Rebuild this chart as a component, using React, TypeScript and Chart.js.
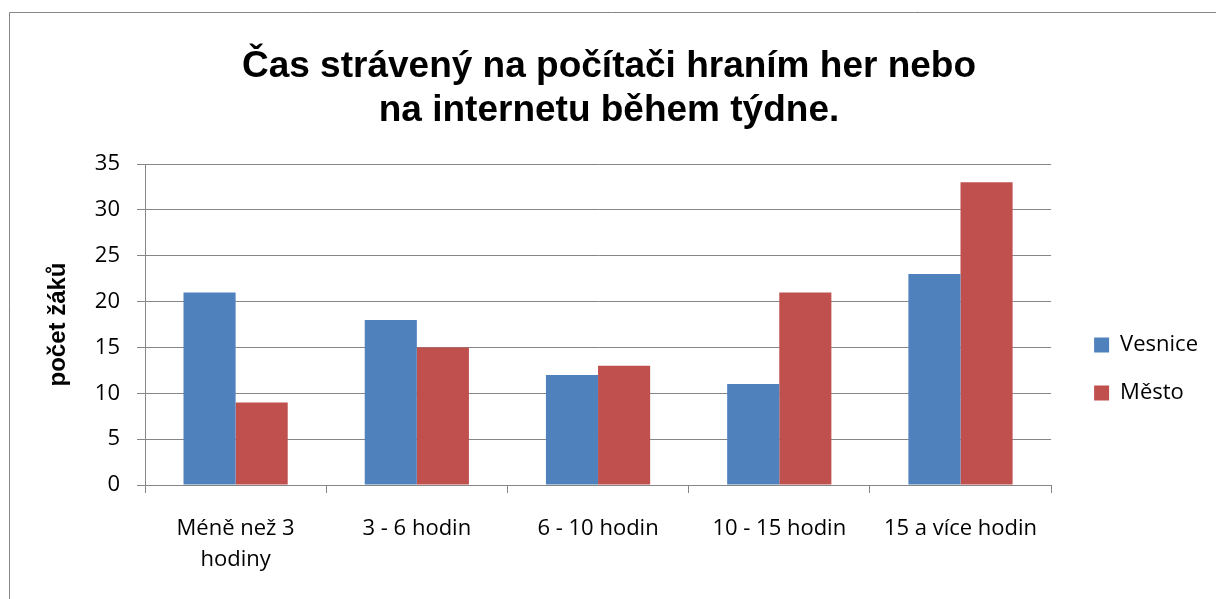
import React, { useEffect, useRef } from "react";
import { Chart, registerables } from "chart.js";

Chart.register(...registerables);

// ---- data ----
const categories: (string | string[])[] = [
  ["Méně než 3", "hodiny"],
  "3 - 6 hodin",
  "6 - 10 hodin",
  "10 - 15 hodin",
  "15 a více hodin",
];
const seriesNames = ["Vesnice", "Město"];
const vesnice = [21, 18, 12, 11, 23];
const mesto = [9, 15, 13, 21, 33];
const titleLines = ["Čas strávený na počítači hraním her nebo", "na internetu během týdne."];
const yAxisTitle = "počet žáků";
const yMin = 0;
const yMax = 35;
const yStep = 5;

const GRID = "#868686";
const TICK_FONT = "'Open Sans', 'Noto Sans', sans-serif";
const BOLD_FONT = "'Liberation Sans', Arial, sans-serif";

const framePlugin = {
  id: "frame",
  beforeDraw(chart: any) {
    const ctx = chart.ctx;
    ctx.save();
    ctx.fillStyle = "#ffffff";
    ctx.fillRect(0, 0, chart.width, chart.height);
    ctx.strokeStyle = GRID;
    ctx.lineWidth = 1;
    ctx.beginPath();
    ctx.moveTo(9.5, chart.height);
    ctx.lineTo(9.5, 12.5);
    ctx.lineTo(chart.width, 12.5);
    ctx.stroke();
    ctx.restore();
  },
};

export default function App() {
  const ref = useRef<HTMLCanvasElement | null>(null);

  useEffect(() => {
    document.body.style.margin = "0";
    document.body.style.overflow = "hidden";
    if (!ref.current) return;
    const chart = new Chart(ref.current, {
      type: "bar",
      data: {
        labels: categories,
        datasets: [
          { label: seriesNames[0], data: vesnice, backgroundColor: "#4F81BD", borderWidth: 0 },
          { label: seriesNames[1], data: mesto, backgroundColor: "#C0504D", borderWidth: 0 },
        ],
      },
      options: {
        responsive: false,
        animation: false,
        devicePixelRatio: 1,
        layout: { padding: { left: 10, right: 8, top: 0, bottom: 0 } },
        datasets: { bar: { categoryPercentage: 0.575, barPercentage: 1 } },
        plugins: {
          tooltip: { enabled: false },
          title: {
            display: true,
            text: titleLines,
            color: "#000000",
            font: { family: BOLD_FONT, size: 37, weight: "bold", lineHeight: 44 / 37 },
            padding: { top: 45, bottom: 31 },
          },
          legend: {
            position: "right",
            align: "center",
            title: { display: true, text: "", font: { size: 19, lineHeight: 1 }, padding: { top: 120, bottom: 0 } },
            labels: {
              color: "#000000",
              font: { family: TICK_FONT, size: 22 },
              boxWidth: 15,
              boxHeight: 15,
              padding: 26,
            },
          },
        },
        scales: {
          x: {
            type: "category",
            offset: true,
            grid: { display: true, drawOnChartArea: false, drawTicks: true, tickLength: 8, color: GRID, offset: true },
            border: { display: true, color: GRID },
            ticks: { color: "#000000", font: { family: TICK_FONT, size: 22, lineHeight: 31 / 22 }, padding: 20, maxRotation: 0, autoSkip: false },
            afterFit: (s: any) => { s.height = 114; },
          },
          y: {
            type: "linear",
            min: yMin,
            max: yMax,
            ticks: { stepSize: yStep, color: "#000000", font: { family: TICK_FONT, size: 22 }, padding: 17 },
            grid: { color: GRID, tickLength: 8, drawTicks: true },
            border: { display: true, color: GRID },
            title: {
              display: true,
              text: yAxisTitle,
              color: "#000000",
              font: { family: BOLD_FONT, size: 24, weight: "bold", lineHeight: 1.2 },
              padding: { top: 34, bottom: 0 },
            },
            afterFit: (s: any) => { s.width = 135; },
          },
          y2: {
            type: "linear",
            position: "right",
            display: true,
            grid: { display: false },
            border: { display: false },
            ticks: { display: false },
            afterFit: (s: any) => { s.width = 17; },
          },
        },
      },
      plugins: [framePlugin],
    } as any);
    return () => chart.destroy();
  }, []);

  return <canvas ref={ref} width={1216} height={599} style={{ display: "block" }} />;
}
